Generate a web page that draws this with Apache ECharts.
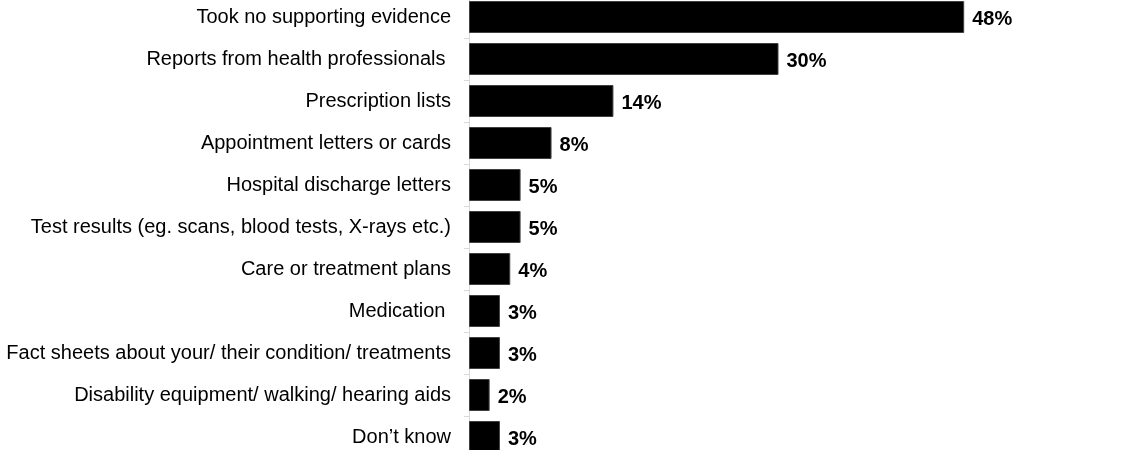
<!DOCTYPE html>
<html>
<head>
<meta charset="utf-8">
<style>
  html, body { margin: 0; padding: 0; background: #fff; }
  #chart { width: 1121px; height: 450px; }
</style>
<script src="https://cdn.jsdelivr.net/npm/echarts@6/dist/echarts.min.js"></script>
</head>
<body>
<div id="chart"></div>
<script>
// Evidence taken along, share of respondents (%)
const categories = [
  'Took no supporting evidence',
  'Reports from health professionals ',
  'Prescription lists',
  'Appointment letters or cards',
  'Hospital discharge letters',
  'Test results (eg. scans, blood tests, X-rays etc.)',
  'Care or treatment plans',
  'Medication ',
  'Fact sheets about your/ their condition/ treatments',
  'Disability equipment/ walking/ hearing aids',
  'Don\u2019t know'
];
const shares = [48, 30, 14, 8, 5, 5, 4, 3, 3, 2, 3];

const chart = echarts.init(document.getElementById('chart'));
chart.setOption({
  animation: false,
  textStyle: { fontFamily: '"Liberation Sans", Arial, sans-serif' },
  grid: {
    left: 469, top: -4, width: 619, height: 462,
    containLabel: false,
    outerBoundsMode: 'none'
  },
  xAxis: {
    type: 'value',
    min: 0,
    max: 60,
    show: false
  },
  yAxis: {
    type: 'category',
    data: categories,
    inverse: true,
    axisLine: { show: true, lineStyle: { color: '#d9d9d9', width: 1 } },
    axisTick: { show: true, length: 5, alignWithLabel: false, lineStyle: { color: '#d9d9d9' } },
    axisLabel: { margin: 18, color: '#000', fontSize: 20 },
    splitLine: { show: false }
  },
  series: [{
    type: 'bar',
    data: shares,
    barWidth: 32,
    itemStyle: { color: '#000', borderColor: '#404040', borderWidth: 1 },
    label: {
      show: true,
      position: 'right',
      distance: 8,
      offset: [0, 2],
      formatter: '{c}%',
      color: '#000',
      fontWeight: 'bold',
      fontSize: 20
    }
  }]
});
</script>
</body>
</html>
